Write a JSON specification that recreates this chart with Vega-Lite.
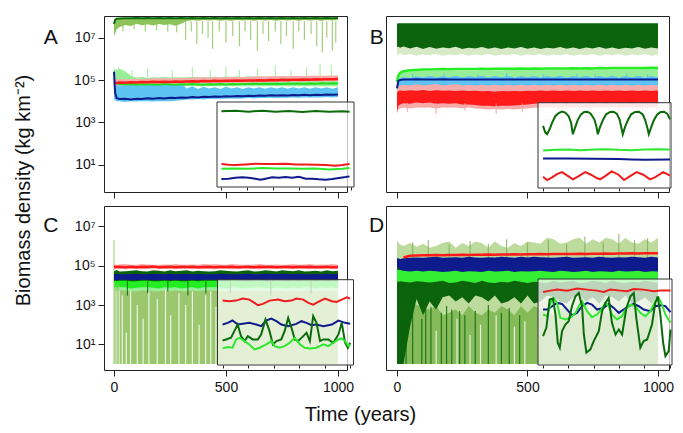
{
"$schema":"https://vega.github.io/schema/vega-lite/v6.json",
"background":"white",
"padding":{"left":12,"top":13,"right":4,"bottom":4},
"bounds":"flush",
"columns":2,
"spacing":{"row":14,"column":39},
"config":{"view":{"stroke":"#222","strokeWidth":1},"font":"Liberation Sans","mark":{"invalid":"filter"},
"axis":{"grid":false,"domain":false,"tickColor":"#222","tickSize":6,"labelFont":"Liberation Sans","labelFontSize":14,"labelColor":"#111","labelPadding":3,"labelFlush":false,"labelOverlap":false,"titleFont":"Liberation Sans","titleFontSize":20,"titleFontWeight":"normal","titleColor":"#111"}},
"datasets":{
"A":[
{"t":0,"oL":1.2e7,"d":4.5e7,"pL":4e4,"pH":3.5e5,"bL":1.3e4,"bH":1.5e5,"kL":5e4,"kH":1.2e5,"g":7e4,"r":8e4,"n":2.5e5},
{"t":5,"oL":1.6e7,"d":7e7,"pL":4.5e4,"pH":3.2e5,"bL":1.1e4,"bH":1.2e5,"kL":5.5e4,"kH":1.15e5,"g":7e4,"r":7.5e4,"n":2.5e4},
{"t":12,"oL":2.5e7,"d":8e7,"pL":5e4,"pH":3e5,"bL":1e4,"bH":1e5,"kL":5.5e4,"kH":1.1e5,"g":6.8e4,"r":7.2e4,"n":1.4e4},
{"t":25,"oL":3.2e7,"d":8.2e7,"pL":5e4,"pH":3.3e5,"bL":1e4,"bH":9e4,"kL":5.5e4,"kH":1.1e5,"g":6.5e4,"r":7.6e4,"n":1.25e4},
{"t":50,"oL":4e7,"d":8.4e7,"pL":5e4,"pH":2.6e5,"bL":9e3,"bH":1e5,"kL":5.5e4,"kH":1.1e5,"g":6.2e4,"r":7.4e4,"n":1.3e4},
{"t":75,"oL":3.6e7,"d":8.3e7,"pL":5e4,"pH":1.6e5,"bL":1e4,"bH":8.5e4,"kL":5.8e4,"kH":1.1e5,"g":6.4e4,"r":7.8e4,"n":1.2e4},
{"t":100,"oL":4.6e7,"d":8.5e7,"pL":5e4,"pH":1.3e5,"bL":9.5e3,"bH":1e5,"kL":6e4,"kH":1.15e5,"g":6e4,"r":7.6e4,"n":1.3e4},
{"t":125,"oL":3.9e7,"d":8.4e7,"pL":5e4,"pH":1.4e5,"bL":1e4,"bH":8e4,"kL":6e4,"kH":1.1e5,"g":6.3e4,"r":8e4,"n":1.25e4},
{"t":150,"oL":4.3e7,"d":8.5e7,"pL":5e4,"pH":1.25e5,"bL":1e4,"bH":9.5e4,"kL":6e4,"kH":1.15e5,"g":6.1e4,"r":7.8e4,"n":1.35e4},
{"t":175,"oL":3.8e7,"d":8.4e7,"pL":5e4,"pH":1.35e5,"bL":9.5e3,"bH":8.5e4,"kL":6.2e4,"kH":1.2e5,"g":6.2e4,"r":8.2e4,"n":1.3e4},
{"t":200,"oL":4.5e7,"d":8.5e7,"pL":5e4,"pH":1.3e5,"bL":1e4,"bH":1e5,"kL":6.2e4,"kH":1.2e5,"g":6e4,"r":8e4,"n":1.4e4},
{"t":225,"oL":4e7,"d":8.4e7,"pL":5e4,"pH":1.4e5,"bL":1e4,"bH":8.5e4,"kL":6.3e4,"kH":1.2e5,"g":6.4e4,"r":8.3e4,"n":1.35e4},
{"t":250,"oL":4.4e7,"d":8.5e7,"pL":5e4,"pH":1.3e5,"bL":1e4,"bH":9.5e4,"kL":6.4e4,"kH":1.2e5,"g":6.2e4,"r":8.1e4,"n":1.45e4},
{"t":275,"oL":3.7e7,"d":8.4e7,"pL":5e4,"pH":1.35e5,"bL":1.05e4,"bH":8e4,"kL":6.5e4,"kH":1.25e5,"g":6e4,"r":8.5e4,"n":1.4e4},
{"t":300,"oL":4.6e7,"d":8.5e7,"pL":5e4,"pH":1.3e5,"bL":1.1e4,"bH":7e4,"kL":6.5e4,"kH":1.25e5,"g":6.3e4,"r":8.3e4,"n":1.5e4},
{"t":325,"oL":6.2e7,"d":8.4e7,"pL":5e4,"pH":1.35e5,"bL":1.2e4,"bH":4e4,"kL":6.6e4,"kH":1.25e5,"g":6.1e4,"r":8.6e4,"n":1.45e4},
{"t":350,"oL":6.8e7,"d":8.5e7,"pL":5e4,"pH":1.4e5,"bL":1.2e4,"bH":5e4,"kL":6.8e4,"kH":1.3e5,"g":6.4e4,"r":8.8e4,"n":1.55e4},
{"t":375,"oL":6.4e7,"d":8.4e7,"pL":5e4,"pH":1.35e5,"bL":1.25e4,"bH":3.8e4,"kL":6.8e4,"kH":1.3e5,"g":6.2e4,"r":8.6e4,"n":1.5e4},
{"t":400,"oL":7e7,"d":8.5e7,"pL":5e4,"pH":1.4e5,"bL":1.2e4,"bH":4.8e4,"kL":7e4,"kH":1.3e5,"g":6e4,"r":9e4,"n":1.6e4},
{"t":425,"oL":6.5e7,"d":8.4e7,"pL":5e4,"pH":1.35e5,"bL":1.3e4,"bH":4e4,"kL":7e4,"kH":1.3e5,"g":6.3e4,"r":8.8e4,"n":1.55e4},
{"t":450,"oL":6.9e7,"d":8.5e7,"pL":5e4,"pH":1.45e5,"bL":1.25e4,"bH":4.6e4,"kL":7e4,"kH":1.35e5,"g":6.1e4,"r":9.2e4,"n":1.65e4},
{"t":475,"oL":6.3e7,"d":8.4e7,"pL":5e4,"pH":1.35e5,"bL":1.3e4,"bH":3.8e4,"kL":7.2e4,"kH":1.35e5,"g":6.4e4,"r":9e4,"n":1.6e4},
{"t":500,"oL":6.8e7,"d":8.5e7,"pL":5e4,"pH":1.45e5,"bL":1.3e4,"bH":4.8e4,"kL":7.2e4,"kH":1.35e5,"g":6.2e4,"r":9.3e4,"n":1.7e4},
{"t":525,"oL":6.4e7,"d":8.4e7,"pL":5e4,"pH":1.4e5,"bL":1.35e4,"bH":4e4,"kL":7.3e4,"kH":1.4e5,"g":6.5e4,"r":9.1e4,"n":1.65e4},
{"t":550,"oL":7e7,"d":8.5e7,"pL":5e4,"pH":1.5e5,"bL":1.3e4,"bH":4.5e4,"kL":7.4e4,"kH":1.4e5,"g":6.3e4,"r":9.5e4,"n":1.75e4},
{"t":575,"oL":6.5e7,"d":8.4e7,"pL":5e4,"pH":1.4e5,"bL":1.35e4,"bH":3.8e4,"kL":7.5e4,"kH":1.4e5,"g":6.5e4,"r":9.3e4,"n":1.7e4},
{"t":600,"oL":6.9e7,"d":8.5e7,"pL":5e4,"pH":1.5e5,"bL":1.4e4,"bH":4.6e4,"kL":7.5e4,"kH":1.4e5,"g":6.4e4,"r":9.6e4,"n":1.8e4},
{"t":625,"oL":6.4e7,"d":8.4e7,"pL":5e4,"pH":1.4e5,"bL":1.35e4,"bH":4e4,"kL":7.6e4,"kH":1.45e5,"g":6.6e4,"r":9.4e4,"n":1.75e4},
{"t":650,"oL":7e7,"d":8.5e7,"pL":5e4,"pH":1.5e5,"bL":1.4e4,"bH":4.5e4,"kL":7.6e4,"kH":1.45e5,"g":6.4e4,"r":9.8e4,"n":1.85e4},
{"t":675,"oL":6.5e7,"d":8.4e7,"pL":5e4,"pH":1.4e5,"bL":1.4e4,"bH":3.9e4,"kL":7.8e4,"kH":1.45e5,"g":6.6e4,"r":9.6e4,"n":1.8e4},
{"t":700,"oL":6.9e7,"d":8.5e7,"pL":5e4,"pH":1.5e5,"bL":1.45e4,"bH":4.6e4,"kL":7.8e4,"kH":1.5e5,"g":6.5e4,"r":1e5,"n":1.9e4},
{"t":725,"oL":6.4e7,"d":8.4e7,"pL":5e4,"pH":1.45e5,"bL":1.4e4,"bH":4e4,"kL":8e4,"kH":1.5e5,"g":6.7e4,"r":9.8e4,"n":1.85e4},
{"t":750,"oL":7e7,"d":8.5e7,"pL":5e4,"pH":1.55e5,"bL":1.45e4,"bH":4.5e4,"kL":8e4,"kH":1.5e5,"g":6.5e4,"r":1.02e5,"n":1.9e4},
{"t":775,"oL":6.5e7,"d":8.4e7,"pL":5e4,"pH":1.45e5,"bL":1.45e4,"bH":3.9e4,"kL":8.2e4,"kH":1.5e5,"g":6.8e4,"r":1e5,"n":1.85e4},
{"t":800,"oL":6.9e7,"d":8.5e7,"pL":5e4,"pH":1.55e5,"bL":1.5e4,"bH":4.6e4,"kL":8.2e4,"kH":1.55e5,"g":6.6e4,"r":1.04e5,"n":1.95e4},
{"t":825,"oL":6.4e7,"d":8.4e7,"pL":5e4,"pH":1.45e5,"bL":1.45e4,"bH":4e4,"kL":8.3e4,"kH":1.55e5,"g":6.8e4,"r":1.02e5,"n":1.9e4},
{"t":850,"oL":7e7,"d":8.5e7,"pL":5e4,"pH":1.55e5,"bL":1.5e4,"bH":4.5e4,"kL":8.4e4,"kH":1.55e5,"g":6.6e4,"r":1.06e5,"n":2e4},
{"t":875,"oL":6.5e7,"d":8.4e7,"pL":5e4,"pH":1.5e5,"bL":1.5e4,"bH":3.9e4,"kL":8.5e4,"kH":1.6e5,"g":6.9e4,"r":1.04e5,"n":1.9e4},
{"t":900,"oL":6.9e7,"d":8.5e7,"pL":5e4,"pH":1.6e5,"bL":1.5e4,"bH":4.6e4,"kL":8.6e4,"kH":1.6e5,"g":6.7e4,"r":1.08e5,"n":2e4},
{"t":925,"oL":6.4e7,"d":8.4e7,"pL":5e4,"pH":1.5e5,"bL":1.5e4,"bH":4e4,"kL":8.7e4,"kH":1.6e5,"g":7e4,"r":1.05e5,"n":1.95e4},
{"t":950,"oL":7e7,"d":8.5e7,"pL":5e4,"pH":1.6e5,"bL":1.55e4,"bH":4.5e4,"kL":8.8e4,"kH":1.6e5,"g":6.8e4,"r":1.1e5,"n":2.05e4},
{"t":975,"oL":6.5e7,"d":8.4e7,"pL":5e4,"pH":1.5e5,"bL":1.5e4,"bH":3.9e4,"kL":8.8e4,"kH":1.65e5,"g":7e4,"r":1.08e5,"n":2e4},
{"t":1000,"oL":6.9e7,"d":8.5e7,"pL":5e4,"pH":1.6e5,"bL":1.55e4,"bH":4.6e4,"kL":9e4,"kH":1.65e5,"g":6.8e4,"r":1.12e5,"n":2.05e4}
],
"B":[
{"t":0,"oL":1.5e6,"dL":3.6e6,"dH":4.6e7,"pL":7e4,"pH":1.3e5,"bL":3e4,"bH":9e4,"kL":2.5e3,"kH":4e4,"rL":3e3,"rH":2.5e4,"g":8e4,"n":4e4},
{"t":5,"oL":1.6e6,"dL":3.8e6,"dH":4.8e7,"pL":9e4,"pH":1.8e5,"bL":3.2e4,"bH":1.1e5,"kL":4e3,"kH":5e4,"rL":6e3,"rH":3e4,"g":1.6e5,"n":9e4},
{"t":12,"oL":1.8e6,"dL":3.4e6,"dH":4.9e7,"pL":1e5,"pH":2.2e5,"bL":3.3e4,"bH":1.2e5,"kL":4.5e3,"kH":5.5e4,"rL":7e3,"rH":3.2e4,"g":2.2e5,"n":1e5},
{"t":25,"oL":1.5e6,"dL":3.9e6,"dH":4.8e7,"pL":1.1e5,"pH":2.4e5,"bL":3.5e4,"bH":1.4e5,"kL":5e3,"kH":6e4,"rL":8e3,"rH":3e4,"g":2.6e5,"n":1.05e5},
{"t":50,"oL":1.7e6,"dL":3.1e6,"dH":4.9e7,"pL":1.15e5,"pH":2.6e5,"bL":3.4e4,"bH":1.25e5,"kL":4.5e3,"kH":5.5e4,"rL":7.5e3,"rH":3.3e4,"g":2.9e5,"n":1.05e5},
{"t":75,"oL":1.4e6,"dL":3.7e6,"dH":4.8e7,"pL":1.2e5,"pH":2.6e5,"bL":3.6e4,"bH":1.5e5,"kL":5e3,"kH":6.5e4,"rL":8.5e3,"rH":3.1e4,"g":3e5,"n":1.08e5},
{"t":100,"oL":1.6e6,"dL":2.9e6,"dH":4.9e7,"pL":1.2e5,"pH":2.7e5,"bL":3.5e4,"bH":1.3e5,"kL":4.8e3,"kH":5.5e4,"rL":8e3,"rH":3.4e4,"g":3.1e5,"n":1.05e5},
{"t":125,"oL":1.5e6,"dL":3.6e6,"dH":4.8e7,"pL":1.2e5,"pH":2.7e5,"bL":3.7e4,"bH":1.6e5,"kL":5e3,"kH":6e4,"rL":8.5e3,"rH":3e4,"g":3.15e5,"n":1.07e5},
{"t":150,"oL":1.7e6,"dL":3e6,"dH":4.9e7,"pL":1.2e5,"pH":2.75e5,"bL":3.5e4,"bH":1.3e5,"kL":4.5e3,"kH":6.5e4,"rL":7.5e3,"rH":3.3e4,"g":3.2e5,"n":1.05e5},
{"t":175,"oL":1.4e6,"dL":3.5e6,"dH":4.8e7,"pL":1.25e5,"pH":2.8e5,"bL":3.6e4,"bH":1.5e5,"kL":5e3,"kH":5.5e4,"rL":8e3,"rH":3.1e4,"g":3.3e5,"n":1.08e5},
{"t":200,"oL":1.6e6,"dL":3.2e6,"dH":4.9e7,"pL":1.2e5,"pH":2.8e5,"bL":3.5e4,"bH":1.35e5,"kL":4.8e3,"kH":6e4,"rL":7.5e3,"rH":3.2e4,"g":3.2e5,"n":1.05e5},
{"t":225,"oL":1.5e6,"dL":3.7e6,"dH":4.8e7,"pL":1.25e5,"pH":2.8e5,"bL":3.7e4,"bH":1.6e5,"kL":5e3,"kH":6.5e4,"rL":8e3,"rH":3e4,"g":3.35e5,"n":1.07e5},
{"t":250,"oL":1.7e6,"dL":2.9e6,"dH":4.9e7,"pL":1.25e5,"pH":2.85e5,"bL":3.5e4,"bH":1.3e5,"kL":4.5e3,"kH":5.5e4,"rL":7e3,"rH":3.2e4,"g":3.3e5,"n":1.05e5},
{"t":275,"oL":1.4e6,"dL":3.4e6,"dH":4.8e7,"pL":1.25e5,"pH":2.85e5,"bL":3.6e4,"bH":1.55e5,"kL":5e3,"kH":6e4,"rL":7e3,"rH":3e4,"g":3.35e5,"n":1.06e5},
{"t":300,"oL":1.6e6,"dL":3.1e6,"dH":4.9e7,"pL":1.25e5,"pH":2.85e5,"bL":3.5e4,"bH":1.35e5,"kL":4.5e3,"kH":5.5e4,"rL":6.5e3,"rH":3.1e4,"g":3.35e5,"n":1.05e5},
{"t":325,"oL":1.5e6,"dL":3.6e6,"dH":4.8e7,"pL":1.25e5,"pH":2.9e5,"bL":3.7e4,"bH":1.6e5,"kL":4.2e3,"kH":6e4,"rL":6e3,"rH":2.9e4,"g":3.4e5,"n":1.07e5},
{"t":350,"oL":1.7e6,"dL":3e6,"dH":4.9e7,"pL":1.25e5,"pH":2.9e5,"bL":3.5e4,"bH":1.3e5,"kL":4e3,"kH":5.5e4,"rL":6e3,"rH":3e4,"g":3.35e5,"n":1.05e5},
{"t":375,"oL":1.4e6,"dL":3.5e6,"dH":4.8e7,"pL":1.3e5,"pH":2.9e5,"bL":3.6e4,"bH":1.55e5,"kL":4.2e3,"kH":6e4,"rL":5.8e3,"rH":2.8e4,"g":3.45e5,"n":1.06e5},
{"t":400,"oL":1.6e6,"dL":2.9e6,"dH":4.9e7,"pL":1.25e5,"pH":2.9e5,"bL":3.5e4,"bH":1.35e5,"kL":4e3,"kH":5.5e4,"rL":6e3,"rH":3e4,"g":3.4e5,"n":1.05e5},
{"t":425,"oL":1.5e6,"dL":3.5e6,"dH":4.8e7,"pL":1.3e5,"pH":2.95e5,"bL":3.7e4,"bH":1.6e5,"kL":4.2e3,"kH":6e4,"rL":6e3,"rH":2.9e4,"g":3.45e5,"n":1.07e5},
{"t":450,"oL":1.7e6,"dL":3.1e6,"dH":4.9e7,"pL":1.3e5,"pH":2.95e5,"bL":3.5e4,"bH":1.3e5,"kL":4e3,"kH":5.5e4,"rL":6.2e3,"rH":3e4,"g":3.4e5,"n":1.05e5},
{"t":475,"oL":1.4e6,"dL":3.6e6,"dH":4.8e7,"pL":1.3e5,"pH":3e5,"bL":3.6e4,"bH":1.55e5,"kL":4.3e3,"kH":6e4,"rL":6.5e3,"rH":2.9e4,"g":3.5e5,"n":1.06e5},
{"t":500,"oL":1.6e6,"dL":3e6,"dH":4.9e7,"pL":1.3e5,"pH":3e5,"bL":3.5e4,"bH":1.35e5,"kL":4.5e3,"kH":5.5e4,"rL":7e3,"rH":3.1e4,"g":3.45e5,"n":1.05e5},
{"t":525,"oL":1.5e6,"dL":3.5e6,"dH":4.8e7,"pL":1.3e5,"pH":3e5,"bL":3.7e4,"bH":1.6e5,"kL":4.8e3,"kH":6e4,"rL":7.5e3,"rH":3e4,"g":3.5e5,"n":1.07e5},
{"t":550,"oL":1.7e6,"dL":2.9e6,"dH":4.9e7,"pL":1.3e5,"pH":3e5,"bL":3.5e4,"bH":1.3e5,"kL":5e3,"kH":5.5e4,"rL":8e3,"rH":3.2e4,"g":3.45e5,"n":1.05e5},
{"t":575,"oL":1.4e6,"dL":3.4e6,"dH":4.8e7,"pL":1.3e5,"pH":3.05e5,"bL":3.6e4,"bH":1.55e5,"kL":5e3,"kH":6e4,"rL":8.5e3,"rH":3e4,"g":3.55e5,"n":1.06e5},
{"t":600,"oL":1.6e6,"dL":3.1e6,"dH":4.9e7,"pL":1.3e5,"pH":3.05e5,"bL":3.5e4,"bH":1.35e5,"kL":5e3,"kH":5.5e4,"rL":8e3,"rH":3.2e4,"g":3.5e5,"n":1.05e5},
{"t":625,"oL":1.5e6,"dL":3.6e6,"dH":4.8e7,"pL":1.35e5,"pH":3.05e5,"bL":3.7e4,"bH":1.6e5,"kL":5e3,"kH":6e4,"rL":8.5e3,"rH":3e4,"g":3.55e5,"n":1.07e5},
{"t":650,"oL":1.7e6,"dL":3e6,"dH":4.9e7,"pL":1.3e5,"pH":3.1e5,"bL":3.5e4,"bH":1.3e5,"kL":5e3,"kH":5.5e4,"rL":8e3,"rH":3.2e4,"g":3.55e5,"n":1.05e5},
{"t":675,"oL":1.4e6,"dL":3.5e6,"dH":4.8e7,"pL":1.35e5,"pH":3.1e5,"bL":3.6e4,"bH":1.55e5,"kL":5e3,"kH":6e4,"rL":8.5e3,"rH":3e4,"g":3.6e5,"n":1.06e5},
{"t":700,"oL":1.6e6,"dL":2.9e6,"dH":4.9e7,"pL":1.3e5,"pH":3.1e5,"bL":3.5e4,"bH":1.35e5,"kL":5e3,"kH":5.5e4,"rL":8e3,"rH":3.2e4,"g":3.55e5,"n":1.05e5},
{"t":725,"oL":1.5e6,"dL":3.5e6,"dH":4.8e7,"pL":1.35e5,"pH":3.1e5,"bL":3.7e4,"bH":1.6e5,"kL":5e3,"kH":6e4,"rL":8.5e3,"rH":3e4,"g":3.6e5,"n":1.07e5},
{"t":750,"oL":1.7e6,"dL":3.1e6,"dH":4.9e7,"pL":1.35e5,"pH":3.15e5,"bL":3.5e4,"bH":1.3e5,"kL":5e3,"kH":5.5e4,"rL":8e3,"rH":3.2e4,"g":3.55e5,"n":1.05e5},
{"t":775,"oL":1.4e6,"dL":3.6e6,"dH":4.8e7,"pL":1.35e5,"pH":3.15e5,"bL":3.6e4,"bH":1.55e5,"kL":5e3,"kH":6e4,"rL":8.5e3,"rH":3e4,"g":3.65e5,"n":1.06e5},
{"t":800,"oL":1.6e6,"dL":3e6,"dH":4.9e7,"pL":1.35e5,"pH":3.15e5,"bL":3.5e4,"bH":1.35e5,"kL":5e3,"kH":5.5e4,"rL":8e3,"rH":3.2e4,"g":3.6e5,"n":1.05e5},
{"t":825,"oL":1.5e6,"dL":3.5e6,"dH":4.8e7,"pL":1.35e5,"pH":3.2e5,"bL":3.7e4,"bH":1.6e5,"kL":5e3,"kH":6e4,"rL":8.5e3,"rH":3e4,"g":3.65e5,"n":1.07e5},
{"t":850,"oL":1.7e6,"dL":2.9e6,"dH":4.9e7,"pL":1.35e5,"pH":3.2e5,"bL":3.5e4,"bH":1.3e5,"kL":5e3,"kH":5.5e4,"rL":8e3,"rH":3.2e4,"g":3.65e5,"n":1.05e5},
{"t":875,"oL":1.4e6,"dL":3.4e6,"dH":4.8e7,"pL":1.4e5,"pH":3.2e5,"bL":3.6e4,"bH":1.55e5,"kL":5e3,"kH":6e4,"rL":8.5e3,"rH":3e4,"g":3.7e5,"n":1.06e5},
{"t":900,"oL":1.6e6,"dL":3.1e6,"dH":4.9e7,"pL":1.35e5,"pH":3.2e5,"bL":3.5e4,"bH":1.35e5,"kL":5e3,"kH":5.5e4,"rL":8e3,"rH":3.2e4,"g":3.65e5,"n":1.05e5},
{"t":925,"oL":1.5e6,"dL":3.6e6,"dH":4.8e7,"pL":1.4e5,"pH":3.25e5,"bL":3.7e4,"bH":1.6e5,"kL":5e3,"kH":6e4,"rL":8.5e3,"rH":3e4,"g":3.7e5,"n":1.07e5},
{"t":950,"oL":1.7e6,"dL":3e6,"dH":4.9e7,"pL":1.4e5,"pH":3.25e5,"bL":3.5e4,"bH":1.3e5,"kL":5e3,"kH":5.5e4,"rL":8e3,"rH":3.2e4,"g":3.7e5,"n":1.05e5},
{"t":975,"oL":1.4e6,"dL":3.5e6,"dH":4.8e7,"pL":1.4e5,"pH":3.25e5,"bL":3.6e4,"bH":1.55e5,"kL":5e3,"kH":6e4,"rL":8.5e3,"rH":3e4,"g":3.75e5,"n":1.06e5},
{"t":1000,"oL":1.6e6,"dL":3.1e6,"dH":4.9e7,"pL":1.4e5,"pH":3.25e5,"bL":3.5e4,"bH":1.35e5,"kL":5e3,"kH":5.5e4,"rL":8e3,"rH":3.2e4,"g":3.7e5,"n":1.05e5}
],
"C":[
{"t":0,"oH":null,"pL":5e3,"pH":1.4e4,"gL":7e3,"gH":2e4,"dL":1.6e4,"dH":5e4,"nL":1.8e4,"nH":3.8e4,"kL":6.5e4,"kH":1.1e5,"r":8.5e4},
{"t":5,"oH":null,"pL":5e3,"pH":1.3e4,"gL":8e3,"gH":2.2e4,"dL":1.7e4,"dH":5.5e4,"nL":1.9e4,"nH":3.6e4,"kL":6.8e4,"kH":1.15e5,"r":8.7e4},
{"t":12,"oH":null,"pL":5e3,"pH":1.4e4,"gL":7.5e3,"gH":2e4,"dL":1.6e4,"dH":6e4,"nL":1.8e4,"nH":3.9e4,"kL":7e4,"kH":1.1e5,"r":8.6e4},
{"t":25,"oH":8e3,"pL":5.5e3,"pH":1.3e4,"gL":8e3,"gH":2.1e4,"dL":1.7e4,"dH":5e4,"nL":1.9e4,"nH":3.7e4,"kL":6.8e4,"kH":1.15e5,"r":8.8e4},
{"t":50,"oH":8.5e3,"pL":5.5e3,"pH":1.3e4,"gL":8e3,"gH":2.2e4,"dL":1.7e4,"dH":5.2e4,"nL":1.9e4,"nH":3.6e4,"kL":6.6e4,"kH":1.2e5,"r":8.4e4},
{"t":75,"oH":7e3,"pL":5e3,"pH":1.4e4,"gL":7e3,"gH":1.9e4,"dL":1.6e4,"dH":5.5e4,"nL":1.8e4,"nH":3.8e4,"kL":7e4,"kH":1.1e5,"r":8.9e4},
{"t":100,"oH":7.5e3,"pL":5e3,"pH":1.4e4,"gL":7.5e3,"gH":2e4,"dL":1.6e4,"dH":5.8e4,"nL":1.8e4,"nH":3.9e4,"kL":7e4,"kH":1.1e5,"r":8.3e4},
{"t":125,"oH":8.5e3,"pL":5.5e3,"pH":1.3e4,"gL":8e3,"gH":2.2e4,"dL":1.7e4,"dH":5.2e4,"nL":1.9e4,"nH":3.6e4,"kL":6.6e4,"kH":1.2e5,"r":8.7e4},
{"t":150,"oH":8e3,"pL":5.5e3,"pH":1.3e4,"gL":8e3,"gH":2.1e4,"dL":1.7e4,"dH":5e4,"nL":1.9e4,"nH":3.7e4,"kL":6.8e4,"kH":1.15e5,"r":8.5e4},
{"t":175,"oH":7.5e3,"pL":5e3,"pH":1.4e4,"gL":7.5e3,"gH":2e4,"dL":1.6e4,"dH":5.8e4,"nL":1.8e4,"nH":3.9e4,"kL":7e4,"kH":1.1e5,"r":9e4},
{"t":200,"oH":7e3,"pL":5e3,"pH":1.4e4,"gL":7e3,"gH":1.9e4,"dL":1.6e4,"dH":5.5e4,"nL":1.8e4,"nH":3.8e4,"kL":7e4,"kH":1.1e5,"r":8.4e4},
{"t":225,"oH":8e3,"pL":5.5e3,"pH":1.3e4,"gL":8e3,"gH":2.1e4,"dL":1.7e4,"dH":5e4,"nL":1.9e4,"nH":3.7e4,"kL":6.8e4,"kH":1.15e5,"r":8.6e4},
{"t":250,"oH":7.5e3,"pL":5e3,"pH":1.4e4,"gL":7.5e3,"gH":2e4,"dL":1.6e4,"dH":5.8e4,"nL":1.8e4,"nH":3.9e4,"kL":7e4,"kH":1.1e5,"r":8.8e4},
{"t":275,"oH":8.5e3,"pL":5.5e3,"pH":1.3e4,"gL":8e3,"gH":2.2e4,"dL":1.7e4,"dH":5.2e4,"nL":1.9e4,"nH":3.6e4,"kL":6.6e4,"kH":1.2e5,"r":8.3e4},
{"t":300,"oH":7e3,"pL":5e3,"pH":1.4e4,"gL":7e3,"gH":1.9e4,"dL":1.6e4,"dH":5.5e4,"nL":1.8e4,"nH":3.8e4,"kL":7e4,"kH":1.1e5,"r":8.7e4},
{"t":325,"oH":7.5e3,"pL":5e3,"pH":1.4e4,"gL":7.5e3,"gH":2e4,"dL":1.6e4,"dH":5.8e4,"nL":1.8e4,"nH":3.9e4,"kL":7e4,"kH":1.1e5,"r":8.5e4},
{"t":350,"oH":8e3,"pL":5.5e3,"pH":1.3e4,"gL":8e3,"gH":2.1e4,"dL":1.7e4,"dH":5e4,"nL":1.9e4,"nH":3.7e4,"kL":6.8e4,"kH":1.15e5,"r":8.9e4},
{"t":375,"oH":7e3,"pL":5e3,"pH":1.4e4,"gL":7e3,"gH":1.9e4,"dL":1.6e4,"dH":5.5e4,"nL":1.8e4,"nH":3.8e4,"kL":7e4,"kH":1.1e5,"r":8.4e4},
{"t":400,"oH":8.5e3,"pL":5.5e3,"pH":1.3e4,"gL":8e3,"gH":2.2e4,"dL":1.7e4,"dH":5.2e4,"nL":1.9e4,"nH":3.6e4,"kL":6.6e4,"kH":1.2e5,"r":8.6e4},
{"t":425,"oH":8e3,"pL":5.5e3,"pH":1.3e4,"gL":8e3,"gH":2.1e4,"dL":1.7e4,"dH":5e4,"nL":1.9e4,"nH":3.7e4,"kL":6.8e4,"kH":1.15e5,"r":8.8e4},
{"t":450,"oH":8.5e3,"pL":5.5e3,"pH":1.3e4,"gL":8e3,"gH":2.2e4,"dL":1.7e4,"dH":5.2e4,"nL":1.9e4,"nH":3.6e4,"kL":6.6e4,"kH":1.2e5,"r":8.3e4},
{"t":475,"oH":7.5e3,"pL":5e3,"pH":1.4e4,"gL":7.5e3,"gH":2e4,"dL":1.6e4,"dH":5.8e4,"nL":1.8e4,"nH":3.9e4,"kL":7e4,"kH":1.1e5,"r":8.7e4},
{"t":500,"oH":7e3,"pL":5e3,"pH":1.4e4,"gL":7e3,"gH":1.9e4,"dL":1.6e4,"dH":5.5e4,"nL":1.8e4,"nH":3.8e4,"kL":7e4,"kH":1.1e5,"r":8.5e4},
{"t":525,"oH":8.5e3,"pL":5.5e3,"pH":1.3e4,"gL":8e3,"gH":2.2e4,"dL":1.7e4,"dH":5.2e4,"nL":1.9e4,"nH":3.6e4,"kL":6.6e4,"kH":1.2e5,"r":8.9e4},
{"t":550,"oH":8e3,"pL":5.5e3,"pH":1.3e4,"gL":8e3,"gH":2.1e4,"dL":1.7e4,"dH":5e4,"nL":1.9e4,"nH":3.7e4,"kL":6.8e4,"kH":1.15e5,"r":8.4e4},
{"t":575,"oH":7e3,"pL":5e3,"pH":1.4e4,"gL":7e3,"gH":1.9e4,"dL":1.6e4,"dH":5.5e4,"nL":1.8e4,"nH":3.8e4,"kL":7e4,"kH":1.1e5,"r":8.6e4},
{"t":600,"oH":7.5e3,"pL":5e3,"pH":1.4e4,"gL":7.5e3,"gH":2e4,"dL":1.6e4,"dH":5.8e4,"nL":1.8e4,"nH":3.9e4,"kL":7e4,"kH":1.1e5,"r":8.8e4},
{"t":625,"oH":8e3,"pL":5.5e3,"pH":1.3e4,"gL":8e3,"gH":2.1e4,"dL":1.7e4,"dH":5e4,"nL":1.9e4,"nH":3.7e4,"kL":6.8e4,"kH":1.15e5,"r":8.3e4},
{"t":650,"oH":8.5e3,"pL":5.5e3,"pH":1.3e4,"gL":8e3,"gH":2.2e4,"dL":1.7e4,"dH":5.2e4,"nL":1.9e4,"nH":3.6e4,"kL":6.6e4,"kH":1.2e5,"r":8.7e4},
{"t":675,"oH":7.5e3,"pL":5e3,"pH":1.4e4,"gL":7.5e3,"gH":2e4,"dL":1.6e4,"dH":5.8e4,"nL":1.8e4,"nH":3.9e4,"kL":7e4,"kH":1.1e5,"r":8.5e4},
{"t":700,"oH":7e3,"pL":5e3,"pH":1.4e4,"gL":7e3,"gH":1.9e4,"dL":1.6e4,"dH":5.5e4,"nL":1.8e4,"nH":3.8e4,"kL":7e4,"kH":1.1e5,"r":8.9e4},
{"t":725,"oH":8e3,"pL":5.5e3,"pH":1.3e4,"gL":8e3,"gH":2.1e4,"dL":1.7e4,"dH":5e4,"nL":1.9e4,"nH":3.7e4,"kL":6.8e4,"kH":1.15e5,"r":8.4e4},
{"t":750,"oH":7.5e3,"pL":5e3,"pH":1.4e4,"gL":7.5e3,"gH":2e4,"dL":1.6e4,"dH":5.8e4,"nL":1.8e4,"nH":3.9e4,"kL":7e4,"kH":1.1e5,"r":8.6e4},
{"t":775,"oH":7e3,"pL":5e3,"pH":1.4e4,"gL":7e3,"gH":1.9e4,"dL":1.6e4,"dH":5.5e4,"nL":1.8e4,"nH":3.8e4,"kL":7e4,"kH":1.1e5,"r":8.8e4},
{"t":800,"oH":8.5e3,"pL":5.5e3,"pH":1.3e4,"gL":8e3,"gH":2.2e4,"dL":1.7e4,"dH":5.2e4,"nL":1.9e4,"nH":3.6e4,"kL":6.6e4,"kH":1.2e5,"r":8.3e4},
{"t":825,"oH":7.5e3,"pL":5e3,"pH":1.4e4,"gL":7.5e3,"gH":2e4,"dL":1.6e4,"dH":5.8e4,"nL":1.8e4,"nH":3.9e4,"kL":7e4,"kH":1.1e5,"r":8.7e4},
{"t":850,"oH":8e3,"pL":5.5e3,"pH":1.3e4,"gL":8e3,"gH":2.1e4,"dL":1.7e4,"dH":5e4,"nL":1.9e4,"nH":3.7e4,"kL":6.8e4,"kH":1.15e5,"r":8.5e4},
{"t":875,"oH":8.5e3,"pL":5.5e3,"pH":1.3e4,"gL":8e3,"gH":2.2e4,"dL":1.7e4,"dH":5.2e4,"nL":1.9e4,"nH":3.6e4,"kL":6.6e4,"kH":1.2e5,"r":8.9e4},
{"t":900,"oH":7e3,"pL":5e3,"pH":1.4e4,"gL":7e3,"gH":1.9e4,"dL":1.6e4,"dH":5.5e4,"nL":1.8e4,"nH":3.8e4,"kL":7e4,"kH":1.1e5,"r":8.4e4},
{"t":925,"oH":8e3,"pL":5.5e3,"pH":1.3e4,"gL":8e3,"gH":2.1e4,"dL":1.7e4,"dH":5e4,"nL":1.9e4,"nH":3.7e4,"kL":6.8e4,"kH":1.15e5,"r":8.6e4},
{"t":950,"oH":7.5e3,"pL":5e3,"pH":1.4e4,"gL":7.5e3,"gH":2e4,"dL":1.6e4,"dH":5.8e4,"nL":1.8e4,"nH":3.9e4,"kL":7e4,"kH":1.1e5,"r":8.8e4},
{"t":975,"oH":8.5e3,"pL":5.5e3,"pH":1.3e4,"gL":8e3,"gH":2.2e4,"dL":1.7e4,"dH":5.2e4,"nL":1.9e4,"nH":3.6e4,"kL":6.6e4,"kH":1.2e5,"r":8.3e4},
{"t":1000,"oH":7e3,"pL":5e3,"pH":1.4e4,"gL":7e3,"gH":1.9e4,"dL":1.6e4,"dH":5.5e4,"nL":1.8e4,"nH":3.8e4,"kL":7e4,"kH":1.1e5,"r":8.6e4}
],
"D":[
{"t":0,"oH":2e6,"mH":1e4,"dL":1,"dH":2e5,"gL":1.5e4,"gH":6e4,"nL":9e4,"nH":2.5e5,"r":null},
{"t":5,"oH":1.5e6,"mH":1e4,"dL":1,"dH":1.8e5,"gL":1.5e4,"gH":6e4,"nL":8e4,"nH":2.3e5,"r":null},
{"t":12,"oH":1.2e6,"mH":5e3,"dL":1,"dH":1.6e5,"gL":1.6e4,"gH":6e4,"nL":6e4,"nH":2.2e5,"r":null},
{"t":25,"oH":1e6,"mH":2e3,"dL":1,"dH":1.4e5,"gL":1.5e4,"gH":6e4,"nL":5.5e4,"nH":2.4e5,"r":2.6e5},
{"t":50,"oH":1.4e6,"mH":1.5e3,"dL":80,"dH":1.5e5,"gL":1.4e4,"gH":5.5e4,"nL":5e4,"nH":2.5e5,"r":3.2e5},
{"t":75,"oH":9e5,"mH":1e3,"dL":2e3,"dH":1.3e5,"gL":1.6e4,"gH":6e4,"nL":5.5e4,"nH":2.6e5,"r":3.3e5},
{"t":100,"oH":1.3e6,"mH":800,"dL":300,"dH":1.5e5,"gL":1.5e4,"gH":5.5e4,"nL":5e4,"nH":2.5e5,"r":3.4e5},
{"t":125,"oH":8e5,"mH":600,"dL":1.5e3,"dH":1.3e5,"gL":1.4e4,"gH":6e4,"nL":5.5e4,"nH":2.7e5,"r":3.35e5},
{"t":150,"oH":1e6,"mH":900,"dL":600,"dH":1.4e5,"gL":1.5e4,"gH":6.5e4,"nL":5.2e4,"nH":2.8e5,"r":3.45e5},
{"t":175,"oH":1.4e6,"mH":300,"dL":2.5e3,"dH":1.5e5,"gL":1.7e4,"gH":5.5e4,"nL":4.8e4,"nH":2.5e5,"r":3.4e5},
{"t":200,"oH":1.7e6,"mH":400,"dL":3e3,"dH":1.3e5,"gL":1.3e4,"gH":5.5e4,"nL":5e4,"nH":2.6e5,"r":3.5e5},
{"t":225,"oH":8e5,"mH":600,"dL":1.5e3,"dH":1.3e5,"gL":1.4e4,"gH":6e4,"nL":5.5e4,"nH":2.7e5,"r":3.45e5},
{"t":250,"oH":1.4e6,"mH":300,"dL":2.5e3,"dH":1.5e5,"gL":1.7e4,"gH":5.5e4,"nL":4.8e4,"nH":2.5e5,"r":3.55e5},
{"t":275,"oH":1e6,"mH":900,"dL":1.2e3,"dH":1.4e5,"gL":1.5e4,"gH":6.5e4,"nL":5.2e4,"nH":2.8e5,"r":3.5e5},
{"t":300,"oH":1.7e6,"mH":400,"dL":3e3,"dH":1.3e5,"gL":1.3e4,"gH":5.5e4,"nL":5e4,"nH":2.6e5,"r":3.6e5},
{"t":325,"oH":1.4e6,"mH":300,"dL":2.5e3,"dH":1.5e5,"gL":1.7e4,"gH":5.5e4,"nL":4.8e4,"nH":2.5e5,"r":3.55e5},
{"t":350,"oH":8e5,"mH":600,"dL":1.5e3,"dH":1.3e5,"gL":1.4e4,"gH":6e4,"nL":5.5e4,"nH":2.7e5,"r":3.65e5},
{"t":375,"oH":1.7e6,"mH":400,"dL":3e3,"dH":1.3e5,"gL":1.3e4,"gH":5.5e4,"nL":5e4,"nH":2.6e5,"r":3.6e5},
{"t":400,"oH":1e6,"mH":900,"dL":1.2e3,"dH":1.4e5,"gL":1.5e4,"gH":6.5e4,"nL":5.2e4,"nH":2.8e5,"r":3.7e5},
{"t":425,"oH":8e5,"mH":600,"dL":1.5e3,"dH":1.3e5,"gL":1.4e4,"gH":6e4,"nL":5.5e4,"nH":2.7e5,"r":3.65e5},
{"t":450,"oH":1.4e6,"mH":300,"dL":2.5e3,"dH":1.5e5,"gL":1.7e4,"gH":5.5e4,"nL":4.8e4,"nH":2.5e5,"r":3.75e5},
{"t":475,"oH":1e6,"mH":900,"dL":1.2e3,"dH":1.4e5,"gL":1.5e4,"gH":6.5e4,"nL":5.2e4,"nH":2.8e5,"r":3.7e5},
{"t":500,"oH":1.7e6,"mH":400,"dL":3e3,"dH":1.3e5,"gL":1.3e4,"gH":5.5e4,"nL":5e4,"nH":2.6e5,"r":3.8e5},
{"t":525,"oH":1.5e6,"mH":900,"dL":1.2e3,"dH":1.4e5,"gL":1.5e4,"gH":6.5e4,"nL":5.2e4,"nH":2.8e5,"r":3.75e5},
{"t":550,"oH":1.3e6,"mH":600,"dL":1.5e3,"dH":1.3e5,"gL":1.4e4,"gH":6e4,"nL":5.5e4,"nH":2.7e5,"r":3.85e5},
{"t":575,"oH":2.6e6,"mH":400,"dL":3e3,"dH":1.3e5,"gL":1.3e4,"gH":5.5e4,"nL":5e4,"nH":2.6e5,"r":3.8e5},
{"t":600,"oH":2.2e6,"mH":300,"dL":2.5e3,"dH":1.5e5,"gL":1.7e4,"gH":5.5e4,"nL":4.8e4,"nH":2.5e5,"r":3.9e5},
{"t":625,"oH":1.3e6,"mH":600,"dL":1.5e3,"dH":1.3e5,"gL":1.4e4,"gH":6e4,"nL":5.5e4,"nH":2.7e5,"r":3.85e5},
{"t":650,"oH":1.5e6,"mH":900,"dL":1.2e3,"dH":1.4e5,"gL":1.5e4,"gH":6.5e4,"nL":5.2e4,"nH":2.8e5,"r":3.95e5},
{"t":675,"oH":2.2e6,"mH":300,"dL":2.5e3,"dH":1.5e5,"gL":1.7e4,"gH":5.5e4,"nL":4.8e4,"nH":2.5e5,"r":3.9e5},
{"t":700,"oH":2.6e6,"mH":400,"dL":3e3,"dH":1.3e5,"gL":1.3e4,"gH":5.5e4,"nL":5e4,"nH":2.6e5,"r":4e5},
{"t":725,"oH":1.3e6,"mH":600,"dL":1.5e3,"dH":1.3e5,"gL":1.4e4,"gH":6e4,"nL":5.5e4,"nH":2.7e5,"r":3.95e5},
{"t":750,"oH":2.2e6,"mH":300,"dL":2.5e3,"dH":1.5e5,"gL":1.7e4,"gH":5.5e4,"nL":4.8e4,"nH":2.5e5,"r":4.05e5},
{"t":775,"oH":1.5e6,"mH":900,"dL":1.2e3,"dH":1.4e5,"gL":1.5e4,"gH":6.5e4,"nL":5.2e4,"nH":2.8e5,"r":4e5},
{"t":800,"oH":2.6e6,"mH":400,"dL":3e3,"dH":1.3e5,"gL":1.3e4,"gH":5.5e4,"nL":5e4,"nH":2.6e5,"r":4.1e5},
{"t":825,"oH":2.2e6,"mH":300,"dL":2.5e3,"dH":1.5e5,"gL":1.7e4,"gH":5.5e4,"nL":4.8e4,"nH":2.5e5,"r":4.05e5},
{"t":850,"oH":1.3e6,"mH":600,"dL":1.5e3,"dH":1.3e5,"gL":1.4e4,"gH":6e4,"nL":5.5e4,"nH":2.7e5,"r":4.15e5},
{"t":875,"oH":2.6e6,"mH":400,"dL":3e3,"dH":1.3e5,"gL":1.3e4,"gH":5.5e4,"nL":5e4,"nH":2.6e5,"r":4.1e5},
{"t":900,"oH":1.5e6,"mH":900,"dL":1.2e3,"dH":1.4e5,"gL":1.5e4,"gH":6.5e4,"nL":5.2e4,"nH":2.8e5,"r":4.2e5},
{"t":925,"oH":1.3e6,"mH":600,"dL":1.5e3,"dH":1.3e5,"gL":1.4e4,"gH":6e4,"nL":5.5e4,"nH":2.7e5,"r":4.15e5},
{"t":950,"oH":2.2e6,"mH":300,"dL":2.5e3,"dH":1.5e5,"gL":1.7e4,"gH":5.5e4,"nL":4.8e4,"nH":2.5e5,"r":4.25e5},
{"t":975,"oH":1.5e6,"mH":900,"dL":1.2e3,"dH":1.4e5,"gL":1.5e4,"gH":6.5e4,"nL":5.2e4,"nH":2.8e5,"r":4.2e5},
{"t":1000,"oH":2.6e6,"mH":400,"dL":3e3,"dH":1.3e5,"gL":1.3e4,"gH":5.5e4,"nL":5e4,"nH":2.6e5,"r":4.3e5}
],
"S":[
{"p":"A","c":"ao","t":40,"lo":2e7,"hi":6e7},{"p":"A","c":"ao","t":90,"lo":2.5e7,"hi":6e7},{"p":"A","c":"ao","t":140,"lo":2e7,"hi":6e7},{"p":"A","c":"ao","t":190,"lo":2.2e7,"hi":6e7},{"p":"A","c":"ao","t":240,"lo":2e7,"hi":6e7},{"p":"A","c":"ao","t":280,"lo":1.8e7,"hi":6e7},{"p":"A","c":"ao","t":320,"lo":8e6,"hi":6e7},{"p":"A","c":"ao","t":345,"lo":2e7,"hi":6e7},{"p":"A","c":"ao","t":370,"lo":5e6,"hi":6e7},{"p":"A","c":"ao","t":395,"lo":1.5e7,"hi":6e7},{"p":"A","c":"ao","t":420,"lo":1e7,"hi":6e7},{"p":"A","c":"ao","t":440,"lo":3e6,"hi":6e7},{"p":"A","c":"ao","t":470,"lo":2e7,"hi":6e7},{"p":"A","c":"ao","t":500,"lo":6e6,"hi":6e7},{"p":"A","c":"ao","t":530,"lo":1.2e7,"hi":6e7},{"p":"A","c":"ao","t":560,"lo":4e6,"hi":6e7},{"p":"A","c":"ao","t":585,"lo":2e7,"hi":6e7},{"p":"A","c":"ao","t":610,"lo":8e6,"hi":6e7},{"p":"A","c":"ao","t":640,"lo":2.5e6,"hi":6e7},{"p":"A","c":"ao","t":665,"lo":1.5e7,"hi":6e7},{"p":"A","c":"ao","t":690,"lo":7e6,"hi":6e7},{"p":"A","c":"ao","t":720,"lo":2e7,"hi":6e7},{"p":"A","c":"ao","t":745,"lo":5e6,"hi":6e7},{"p":"A","c":"ao","t":770,"lo":1.2e7,"hi":6e7},{"p":"A","c":"ao","t":800,"lo":3e6,"hi":6e7},{"p":"A","c":"ao","t":825,"lo":2e7,"hi":6e7},{"p":"A","c":"ao","t":850,"lo":8e6,"hi":6e7},{"p":"A","c":"ao","t":880,"lo":1.5e7,"hi":6e7},{"p":"A","c":"ao","t":905,"lo":4e6,"hi":6e7},{"p":"A","c":"ao","t":930,"lo":2e6,"hi":6e7},{"p":"A","c":"ao","t":950,"lo":1e7,"hi":6e7},{"p":"A","c":"ao","t":975,"lo":2.5e6,"hi":6e7},{"p":"A","c":"ao","t":990,"lo":6e6,"hi":6e7},
{"p":"A","c":"ap","t":20,"lo":1e5,"hi":4e5},{"p":"A","c":"ap","t":80,"lo":1e5,"hi":3e5},{"p":"A","c":"ap","t":150,"lo":1e5,"hi":3.5e5},{"p":"A","c":"ap","t":260,"lo":1e5,"hi":3e5},{"p":"A","c":"ap","t":350,"lo":1e5,"hi":4e5},{"p":"A","c":"ap","t":430,"lo":1e5,"hi":3e5},{"p":"A","c":"ap","t":500,"lo":1e5,"hi":4.5e5},{"p":"A","c":"ap","t":560,"lo":1e5,"hi":3e5},{"p":"A","c":"ap","t":640,"lo":1e5,"hi":3.5e5},{"p":"A","c":"ap","t":720,"lo":1e5,"hi":5e5},{"p":"A","c":"ap","t":790,"lo":1e5,"hi":3e5},{"p":"A","c":"ap","t":860,"lo":1e5,"hi":4e5},{"p":"A","c":"ap","t":920,"lo":1e5,"hi":6e5},{"p":"A","c":"ap","t":970,"lo":1e5,"hi":5e5},
{"p":"B","c":"bb","t":60,"lo":1.2e5,"hi":1.9e5},{"p":"B","c":"bb","t":180,"lo":1.2e5,"hi":2e5},{"p":"B","c":"bb","t":310,"lo":1.2e5,"hi":1.8e5},{"p":"B","c":"bb","t":420,"lo":1.2e5,"hi":2.2e5},{"p":"B","c":"bb","t":560,"lo":1.2e5,"hi":1.9e5},{"p":"B","c":"bb","t":690,"lo":1.2e5,"hi":2e5},{"p":"B","c":"bb","t":760,"lo":1.2e5,"hi":1.8e5},{"p":"B","c":"bb","t":880,"lo":1.2e5,"hi":2.1e5},{"p":"B","c":"bb","t":960,"lo":1.2e5,"hi":1.9e5},
{"p":"B","c":"bk","t":40,"lo":3e3,"hi":8e3},{"p":"B","c":"bk","t":150,"lo":2.5e3,"hi":8e3},{"p":"B","c":"bk","t":260,"lo":3.5e3,"hi":8e3},{"p":"B","c":"bk","t":380,"lo":2.5e3,"hi":8e3},{"p":"B","c":"bk","t":480,"lo":3e3,"hi":8e3},{"p":"B","c":"bk","t":620,"lo":3e3,"hi":8e3},{"p":"B","c":"bk","t":740,"lo":2.8e3,"hi":8e3},{"p":"B","c":"bk","t":850,"lo":3e3,"hi":8e3},{"p":"B","c":"bk","t":940,"lo":2.6e3,"hi":8e3},
{"p":"C","c":"co","t":0,"lo":1,"hi":2e6},{"p":"C","c":"co","t":4,"lo":1,"hi":5e3},{"p":"C","c":"co","t":9,"lo":1,"hi":1e4},{"p":"C","c":"co","t":15,"lo":1,"hi":8e3},{"p":"C","c":"co","t":20,"lo":1,"hi":1e4},
{"p":"C","c":"cw","t":37,"lo":1,"hi":3e3},{"p":"C","c":"cw","t":55,"lo":1,"hi":40},{"p":"C","c":"cw","t":74,"lo":1,"hi":5e3},{"p":"C","c":"cw","t":104,"lo":1,"hi":1e3},{"p":"C","c":"cw","t":130,"lo":1,"hi":200},{"p":"C","c":"cw","t":156,"lo":1,"hi":5e3},{"p":"C","c":"cw","t":193,"lo":1,"hi":2e3},{"p":"C","c":"cw","t":230,"lo":1,"hi":6e3},{"p":"C","c":"cw","t":253,"lo":1,"hi":300},{"p":"C","c":"cw","t":290,"lo":1,"hi":4e3},{"p":"C","c":"cw","t":320,"lo":1,"hi":1e3},{"p":"C","c":"cw","t":350,"lo":1,"hi":5e3},{"p":"C","c":"cw","t":380,"lo":1,"hi":100},{"p":"C","c":"cw","t":409,"lo":1,"hi":3e3},{"p":"C","c":"cw","t":432,"lo":1,"hi":5e3},{"p":"C","c":"cw","t":455,"lo":1,"hi":800},
{"p":"C","c":"cd","t":60,"lo":3e3,"hi":1.6e4},{"p":"C","c":"cd","t":150,"lo":4e3,"hi":1.6e4},{"p":"C","c":"cd","t":240,"lo":5e3,"hi":1.6e4},{"p":"C","c":"cd","t":330,"lo":3e3,"hi":1.6e4},{"p":"C","c":"cd","t":410,"lo":4e3,"hi":1.6e4},{"p":"C","c":"cd","t":520,"lo":4e3,"hi":1.6e4},{"p":"C","c":"cd","t":700,"lo":3e3,"hi":1.6e4},{"p":"C","c":"cd","t":880,"lo":4e3,"hi":1.6e4},
{"p":"D","c":"dd","t":35,"lo":1,"hi":300},{"p":"D","c":"dd","t":60,"lo":1,"hi":500},{"p":"D","c":"dd","t":95,"lo":1,"hi":200},{"p":"D","c":"dd","t":130,"lo":1,"hi":800},{"p":"D","c":"dd","t":170,"lo":1,"hi":400},{"p":"D","c":"dd","t":210,"lo":1,"hi":600},{"p":"D","c":"dd","t":260,"lo":1,"hi":300},{"p":"D","c":"dd","t":300,"lo":1,"hi":500},{"p":"D","c":"dd","t":350,"lo":1,"hi":1e3},{"p":"D","c":"dd","t":400,"lo":1,"hi":400},{"p":"D","c":"dd","t":430,"lo":1,"hi":700},{"p":"D","c":"dd","t":470,"lo":1,"hi":300},{"p":"D","c":"dd","t":110,"lo":1,"hi":600},{"p":"D","c":"dd","t":190,"lo":1,"hi":900},{"p":"D","c":"dd","t":240,"lo":1,"hi":500},
{"p":"D","c":"dw","t":150,"lo":1,"hi":50},{"p":"D","c":"dw","t":230,"lo":1,"hi":200},{"p":"D","c":"dw","t":280,"lo":1,"hi":30},{"p":"D","c":"dw","t":320,"lo":1,"hi":100},{"p":"D","c":"dw","t":380,"lo":1,"hi":300},{"p":"D","c":"dw","t":450,"lo":1,"hi":80},{"p":"D","c":"dw","t":490,"lo":1,"hi":150},
{"p":"D","c":"dv","t":60,"lo":2e5,"hi":1.5e6},{"p":"D","c":"dv","t":120,"lo":2e5,"hi":2e6},{"p":"D","c":"dv","t":200,"lo":2e5,"hi":1.2e6},{"p":"D","c":"dv","t":280,"lo":2e5,"hi":1.8e6},{"p":"D","c":"dv","t":350,"lo":2e5,"hi":1.3e6},{"p":"D","c":"dv","t":420,"lo":2e5,"hi":2.2e6},{"p":"D","c":"dv","t":500,"lo":2e5,"hi":1.5e6},{"p":"D","c":"dv","t":580,"lo":2e5,"hi":2e6},{"p":"D","c":"dv","t":650,"lo":2e5,"hi":1.3e6},{"p":"D","c":"dv","t":720,"lo":2e5,"hi":3e6},{"p":"D","c":"dv","t":790,"lo":2e5,"hi":1.6e6},{"p":"D","c":"dv","t":850,"lo":2e5,"hi":4e6},{"p":"D","c":"dv","t":910,"lo":2e5,"hi":2e6},{"p":"D","c":"dv","t":960,"lo":2e5,"hi":2.5e6}
],
"I":[
{"i":"A","s":"d","u":0,"v":228},{"i":"A","s":"d","u":5.4,"v":230},{"i":"A","s":"d","u":10.6,"v":227},{"i":"A","s":"d","u":15.8,"v":230},{"i":"A","s":"d","u":20.9,"v":227},{"i":"A","s":"d","u":26.1,"v":229},{"i":"A","s":"d","u":31.3,"v":226},{"i":"A","s":"d","u":36.4,"v":229},{"i":"A","s":"d","u":41.6,"v":227},{"i":"A","s":"d","u":46.8,"v":228},{"i":"A","s":"d","u":49.6,"v":227},
{"i":"A","s":"r","u":0,"v":69},{"i":"A","s":"r","u":2.8,"v":67},{"i":"A","s":"r","u":5.4,"v":66},{"i":"A","s":"r","u":9.3,"v":68},{"i":"A","s":"r","u":13.2,"v":70},{"i":"A","s":"r","u":17.1,"v":69},{"i":"A","s":"r","u":20.9,"v":69},{"i":"A","s":"r","u":24.8,"v":70},{"i":"A","s":"r","u":28.7,"v":68},{"i":"A","s":"r","u":32.6,"v":68},{"i":"A","s":"r","u":36.4,"v":67},{"i":"A","s":"r","u":40.3,"v":66},{"i":"A","s":"r","u":44.2,"v":64},{"i":"A","s":"r","u":46.8,"v":66},{"i":"A","s":"r","u":49.6,"v":69},
{"i":"A","s":"g","u":0,"v":55},{"i":"A","s":"g","u":5.4,"v":56},{"i":"A","s":"g","u":10.6,"v":55},{"i":"A","s":"g","u":15.8,"v":57},{"i":"A","s":"g","u":20.9,"v":56},{"i":"A","s":"g","u":26.1,"v":56},{"i":"A","s":"g","u":31.3,"v":55},{"i":"A","s":"g","u":36.4,"v":56},{"i":"A","s":"g","u":41.6,"v":53},{"i":"A","s":"g","u":46.8,"v":55},{"i":"A","s":"g","u":49.6,"v":57},
{"i":"A","s":"n","u":0,"v":24},{"i":"A","s":"n","u":2.8,"v":25},{"i":"A","s":"n","u":5.4,"v":28},{"i":"A","s":"n","u":8,"v":29},{"i":"A","s":"n","u":10.6,"v":28},{"i":"A","s":"n","u":13.2,"v":25},{"i":"A","s":"n","u":15.1,"v":22},{"i":"A","s":"n","u":17.1,"v":25},{"i":"A","s":"n","u":19.6,"v":29},{"i":"A","s":"n","u":22.2,"v":28},{"i":"A","s":"n","u":24.8,"v":30},{"i":"A","s":"n","u":27.4,"v":28},{"i":"A","s":"n","u":30,"v":31},{"i":"A","s":"n","u":32.6,"v":25},{"i":"A","s":"n","u":35.1,"v":25},{"i":"A","s":"n","u":37.7,"v":23},{"i":"A","s":"n","u":40.3,"v":22},{"i":"A","s":"n","u":42.9,"v":24},{"i":"A","s":"n","u":45.5,"v":27},{"i":"A","s":"n","u":48.1,"v":30},{"i":"A","s":"n","u":49.6,"v":32},
{"i":"B","s":"d","u":0,"v":187},{"i":"B","s":"d","u":0.9,"v":167},{"i":"B","s":"d","u":1.6,"v":162},{"i":"B","s":"d","u":2.6,"v":177},{"i":"B","s":"d","u":3.6,"v":197},{"i":"B","s":"d","u":4.9,"v":217},{"i":"B","s":"d","u":6.2,"v":226},{"i":"B","s":"d","u":7.5,"v":230},{"i":"B","s":"d","u":8.8,"v":227},{"i":"B","s":"d","u":10.1,"v":217},{"i":"B","s":"d","u":11.1,"v":197},{"i":"B","s":"d","u":11.8,"v":162},{"i":"B","s":"d","u":12.8,"v":184},{"i":"B","s":"d","u":13.7,"v":204},{"i":"B","s":"d","u":15,"v":222},{"i":"B","s":"d","u":16.3,"v":229},{"i":"B","s":"d","u":17.6,"v":230},{"i":"B","s":"d","u":18.9,"v":224},{"i":"B","s":"d","u":20.3,"v":207},{"i":"B","s":"d","u":21.1,"v":187},{"i":"B","s":"d","u":21.7,"v":162},{"i":"B","s":"d","u":22.6,"v":184},{"i":"B","s":"d","u":23.7,"v":204},{"i":"B","s":"d","u":25,"v":222},{"i":"B","s":"d","u":26.6,"v":229},{"i":"B","s":"d","u":27.9,"v":230},{"i":"B","s":"d","u":29.2,"v":224},{"i":"B","s":"d","u":30.3,"v":207},{"i":"B","s":"d","u":30.9,"v":187},{"i":"B","s":"d","u":31.6,"v":162},{"i":"B","s":"d","u":32.5,"v":184},{"i":"B","s":"d","u":33.6,"v":204},{"i":"B","s":"d","u":34.9,"v":222},{"i":"B","s":"d","u":36.5,"v":229},{"i":"B","s":"d","u":38,"v":230},{"i":"B","s":"d","u":39.5,"v":222},{"i":"B","s":"d","u":40.5,"v":204},{"i":"B","s":"d","u":41.3,"v":182},{"i":"B","s":"d","u":41.9,"v":162},{"i":"B","s":"d","u":42.9,"v":184},{"i":"B","s":"d","u":43.9,"v":204},{"i":"B","s":"d","u":45.3,"v":222},{"i":"B","s":"d","u":46.6,"v":229},{"i":"B","s":"d","u":47.9,"v":230},{"i":"B","s":"d","u":49.2,"v":224},{"i":"B","s":"d","u":50.3,"v":207},
{"i":"B","s":"g","u":0,"v":113},{"i":"B","s":"g","u":5,"v":115},{"i":"B","s":"g","u":10,"v":116},{"i":"B","s":"g","u":15,"v":114},{"i":"B","s":"g","u":20,"v":116},{"i":"B","s":"g","u":25,"v":117},{"i":"B","s":"g","u":30,"v":115},{"i":"B","s":"g","u":35,"v":114},{"i":"B","s":"g","u":40,"v":116},{"i":"B","s":"g","u":45,"v":117},{"i":"B","s":"g","u":50.3,"v":116},
{"i":"B","s":"n","u":0,"v":89},{"i":"B","s":"n","u":10,"v":89},{"i":"B","s":"n","u":20,"v":88},{"i":"B","s":"n","u":30,"v":87},{"i":"B","s":"n","u":35,"v":86},{"i":"B","s":"n","u":40,"v":85},{"i":"B","s":"n","u":50.3,"v":86},
{"i":"B","s":"r","u":0,"v":34},{"i":"B","s":"r","u":1.6,"v":24},{"i":"B","s":"r","u":3.6,"v":32},{"i":"B","s":"r","u":5.5,"v":42},{"i":"B","s":"r","u":7.5,"v":48},{"i":"B","s":"r","u":9.5,"v":38},{"i":"B","s":"r","u":11.8,"v":26},{"i":"B","s":"r","u":14.1,"v":36},{"i":"B","s":"r","u":16.7,"v":48},{"i":"B","s":"r","u":19,"v":40},{"i":"B","s":"r","u":21.3,"v":30},{"i":"B","s":"r","u":22.6,"v":26},{"i":"B","s":"r","u":24.6,"v":36},{"i":"B","s":"r","u":27.2,"v":50},{"i":"B","s":"r","u":29.9,"v":40},{"i":"B","s":"r","u":32.1,"v":24},{"i":"B","s":"r","u":34.5,"v":36},{"i":"B","s":"r","u":37.1,"v":48},{"i":"B","s":"r","u":39.7,"v":40},{"i":"B","s":"r","u":42.4,"v":26},{"i":"B","s":"r","u":44.3,"v":32},{"i":"B","s":"r","u":47.6,"v":48},{"i":"B","s":"r","u":49.6,"v":40},{"i":"B","s":"r","u":50.3,"v":37},
{"i":"C","s":"r","u":0,"v":194},{"i":"C","s":"r","u":2.6,"v":192},{"i":"C","s":"r","u":5.3,"v":194},{"i":"C","s":"r","u":7.9,"v":200},{"i":"C","s":"r","u":10.5,"v":197},{"i":"C","s":"r","u":12.5,"v":187},{"i":"C","s":"r","u":13.8,"v":180},{"i":"C","s":"r","u":15.8,"v":184},{"i":"C","s":"r","u":18.4,"v":194},{"i":"C","s":"r","u":21.7,"v":197},{"i":"C","s":"r","u":24.3,"v":192},{"i":"C","s":"r","u":27,"v":194},{"i":"C","s":"r","u":28.9,"v":200},{"i":"C","s":"r","u":31.6,"v":197},{"i":"C","s":"r","u":33.6,"v":187},{"i":"C","s":"r","u":35.5,"v":182},{"i":"C","s":"r","u":37.5,"v":190},{"i":"C","s":"r","u":40.1,"v":200},{"i":"C","s":"r","u":42.8,"v":192},{"i":"C","s":"r","u":44.7,"v":190},{"i":"C","s":"r","u":46.7,"v":197},{"i":"C","s":"r","u":48.7,"v":204},{"i":"C","s":"r","u":50,"v":200},
{"i":"C","s":"n","u":0,"v":122},{"i":"C","s":"n","u":2,"v":127},{"i":"C","s":"n","u":3.9,"v":134},{"i":"C","s":"n","u":5.9,"v":122},{"i":"C","s":"n","u":7.9,"v":124},{"i":"C","s":"n","u":10.5,"v":127},{"i":"C","s":"n","u":13.2,"v":122},{"i":"C","s":"n","u":15.1,"v":117},{"i":"C","s":"n","u":17.1,"v":134},{"i":"C","s":"n","u":19.1,"v":140},{"i":"C","s":"n","u":21.1,"v":132},{"i":"C","s":"n","u":23,"v":122},{"i":"C","s":"n","u":25.7,"v":117},{"i":"C","s":"n","u":28.9,"v":124},{"i":"C","s":"n","u":30.9,"v":132},{"i":"C","s":"n","u":32.9,"v":127},{"i":"C","s":"n","u":34.9,"v":120},{"i":"C","s":"n","u":36.8,"v":122},{"i":"C","s":"n","u":39.5,"v":117},{"i":"C","s":"n","u":42.8,"v":122},{"i":"C","s":"n","u":45.4,"v":134},{"i":"C","s":"n","u":48,"v":127},{"i":"C","s":"n","u":50,"v":124},
{"i":"C","s":"d","u":0,"v":74},{"i":"C","s":"d","u":1.3,"v":77},{"i":"C","s":"d","u":3.3,"v":82},{"i":"C","s":"d","u":4.6,"v":102},{"i":"C","s":"d","u":5.9,"v":122},{"i":"C","s":"d","u":7.2,"v":87},{"i":"C","s":"d","u":8.6,"v":72},{"i":"C","s":"d","u":9.9,"v":87},{"i":"C","s":"d","u":11.8,"v":77},{"i":"C","s":"d","u":13.8,"v":77},{"i":"C","s":"d","u":15.1,"v":92},{"i":"C","s":"d","u":16.8,"v":137},{"i":"C","s":"d","u":18.4,"v":102},{"i":"C","s":"d","u":19.7,"v":62},{"i":"C","s":"d","u":21.1,"v":72},{"i":"C","s":"d","u":23,"v":77},{"i":"C","s":"d","u":24.3,"v":102},{"i":"C","s":"d","u":25.7,"v":142},{"i":"C","s":"d","u":27,"v":112},{"i":"C","s":"d","u":28.3,"v":77},{"i":"C","s":"d","u":29.6,"v":72},{"i":"C","s":"d","u":31.6,"v":87},{"i":"C","s":"d","u":32.9,"v":97},{"i":"C","s":"d","u":34.2,"v":72},{"i":"C","s":"d","u":35.5,"v":147},{"i":"C","s":"d","u":36.8,"v":127},{"i":"C","s":"d","u":38.2,"v":72},{"i":"C","s":"d","u":39.5,"v":77},{"i":"C","s":"d","u":41.4,"v":77},{"i":"C","s":"d","u":43.4,"v":67},{"i":"C","s":"d","u":45.4,"v":92},{"i":"C","s":"d","u":46.7,"v":127},{"i":"C","s":"d","u":48,"v":67},{"i":"C","s":"d","u":49.1,"v":52},{"i":"C","s":"d","u":50,"v":67},
{"i":"C","s":"g","u":0,"v":50},{"i":"C","s":"g","u":2,"v":54},{"i":"C","s":"g","u":3.9,"v":52},{"i":"C","s":"g","u":5.3,"v":77},{"i":"C","s":"g","u":6.6,"v":82},{"i":"C","s":"g","u":8.6,"v":72},{"i":"C","s":"g","u":10.5,"v":62},{"i":"C","s":"g","u":12.5,"v":47},{"i":"C","s":"g","u":14.5,"v":52},{"i":"C","s":"g","u":17.1,"v":62},{"i":"C","s":"g","u":19.1,"v":72},{"i":"C","s":"g","u":20.4,"v":57},{"i":"C","s":"g","u":22.4,"v":52},{"i":"C","s":"g","u":24.3,"v":57},{"i":"C","s":"g","u":26.3,"v":67},{"i":"C","s":"g","u":28.3,"v":82},{"i":"C","s":"g","u":30.3,"v":62},{"i":"C","s":"g","u":32.2,"v":52},{"i":"C","s":"g","u":34.2,"v":50},{"i":"C","s":"g","u":36.8,"v":52},{"i":"C","s":"g","u":39.5,"v":62},{"i":"C","s":"g","u":41.4,"v":57},{"i":"C","s":"g","u":43.4,"v":67},{"i":"C","s":"g","u":45.4,"v":77},{"i":"C","s":"g","u":46.7,"v":80},{"i":"C","s":"g","u":48,"v":72},{"i":"C","s":"g","u":49.3,"v":57},{"i":"C","s":"g","u":50,"v":62},
{"i":"D","s":"r","u":0,"v":220},{"i":"D","s":"r","u":2.9,"v":224},{"i":"D","s":"r","u":5.5,"v":227},{"i":"D","s":"r","u":9.5,"v":224},{"i":"D","s":"r","u":13.4,"v":230},{"i":"D","s":"r","u":17.4,"v":227},{"i":"D","s":"r","u":21.3,"v":224},{"i":"D","s":"r","u":23.9,"v":220},{"i":"D","s":"r","u":26.6,"v":227},{"i":"D","s":"r","u":30.5,"v":224},{"i":"D","s":"r","u":33.2,"v":222},{"i":"D","s":"r","u":35.8,"v":229},{"i":"D","s":"r","u":39.7,"v":227},{"i":"D","s":"r","u":43.7,"v":222},{"i":"D","s":"r","u":46.3,"v":224},{"i":"D","s":"r","u":50.3,"v":224},
{"i":"D","s":"n","u":0,"v":167},{"i":"D","s":"n","u":1.6,"v":167},{"i":"D","s":"n","u":3.6,"v":177},{"i":"D","s":"n","u":5.5,"v":187},{"i":"D","s":"n","u":7.5,"v":184},{"i":"D","s":"n","u":9.5,"v":167},{"i":"D","s":"n","u":11.4,"v":150},{"i":"D","s":"n","u":13.4,"v":157},{"i":"D","s":"n","u":15.4,"v":177},{"i":"D","s":"n","u":17.4,"v":187},{"i":"D","s":"n","u":19.3,"v":182},{"i":"D","s":"n","u":21.3,"v":167},{"i":"D","s":"n","u":23.9,"v":172},{"i":"D","s":"n","u":25.9,"v":184},{"i":"D","s":"n","u":27.9,"v":172},{"i":"D","s":"n","u":29.9,"v":157},{"i":"D","s":"n","u":31.8,"v":167},{"i":"D","s":"n","u":33.8,"v":177},{"i":"D","s":"n","u":35.8,"v":184},{"i":"D","s":"n","u":37.8,"v":177},{"i":"D","s":"n","u":39.7,"v":167},{"i":"D","s":"n","u":42.4,"v":162},{"i":"D","s":"n","u":44.3,"v":177},{"i":"D","s":"n","u":46.3,"v":180},{"i":"D","s":"n","u":48.3,"v":177},{"i":"D","s":"n","u":50.3,"v":159},
{"i":"D","s":"g","u":0,"v":152},{"i":"D","s":"g","u":1.6,"v":147},{"i":"D","s":"g","u":3.2,"v":192},{"i":"D","s":"g","u":4.2,"v":202},{"i":"D","s":"g","u":5.5,"v":187},{"i":"D","s":"g","u":6.8,"v":142},{"i":"D","s":"g","u":8.8,"v":137},{"i":"D","s":"g","u":10.8,"v":142},{"i":"D","s":"g","u":12.8,"v":157},{"i":"D","s":"g","u":14.1,"v":177},{"i":"D","s":"g","u":15.4,"v":192},{"i":"D","s":"g","u":17.4,"v":162},{"i":"D","s":"g","u":19.3,"v":144},{"i":"D","s":"g","u":21.3,"v":152},{"i":"D","s":"g","u":23.3,"v":170},{"i":"D","s":"g","u":24.6,"v":187},{"i":"D","s":"g","u":25.9,"v":177},{"i":"D","s":"g","u":27.2,"v":152},{"i":"D","s":"g","u":29.2,"v":137},{"i":"D","s":"g","u":31.2,"v":147},{"i":"D","s":"g","u":32.5,"v":167},{"i":"D","s":"g","u":34.5,"v":182},{"i":"D","s":"g","u":36.4,"v":177},{"i":"D","s":"g","u":38.4,"v":157},{"i":"D","s":"g","u":40.4,"v":147},{"i":"D","s":"g","u":42.4,"v":162},{"i":"D","s":"g","u":44.3,"v":192},{"i":"D","s":"g","u":45.7,"v":202},{"i":"D","s":"g","u":47,"v":182},{"i":"D","s":"g","u":48.3,"v":152},{"i":"D","s":"g","u":50.3,"v":127},
{"i":"D","s":"d","u":0,"v":87},{"i":"D","s":"d","u":1.3,"v":112},{"i":"D","s":"d","u":2.6,"v":197},{"i":"D","s":"d","u":3.9,"v":200},{"i":"D","s":"d","u":4.9,"v":152},{"i":"D","s":"d","u":5.8,"v":67},{"i":"D","s":"d","u":6.6,"v":52},{"i":"D","s":"d","u":7.5,"v":102},{"i":"D","s":"d","u":8.8,"v":122},{"i":"D","s":"d","u":10.1,"v":132},{"i":"D","s":"d","u":11.4,"v":177},{"i":"D","s":"d","u":12.8,"v":207},{"i":"D","s":"d","u":14.1,"v":217},{"i":"D","s":"d","u":15.4,"v":177},{"i":"D","s":"d","u":16.1,"v":92},{"i":"D","s":"d","u":17.1,"v":37},{"i":"D","s":"d","u":18.7,"v":47},{"i":"D","s":"d","u":20,"v":72},{"i":"D","s":"d","u":22,"v":102},{"i":"D","s":"d","u":23.3,"v":162},{"i":"D","s":"d","u":24.6,"v":187},{"i":"D","s":"d","u":25.9,"v":202},{"i":"D","s":"d","u":27.2,"v":127},{"i":"D","s":"d","u":28.6,"v":92},{"i":"D","s":"d","u":29.9,"v":107},{"i":"D","s":"d","u":31.2,"v":92},{"i":"D","s":"d","u":32.9,"v":172},{"i":"D","s":"d","u":34.5,"v":207},{"i":"D","s":"d","u":35.8,"v":217},{"i":"D","s":"d","u":36.8,"v":142},{"i":"D","s":"d","u":38.4,"v":52},{"i":"D","s":"d","u":39.7,"v":72},{"i":"D","s":"d","u":41.1,"v":77},{"i":"D","s":"d","u":43,"v":122},{"i":"D","s":"d","u":44.3,"v":187},{"i":"D","s":"d","u":45.3,"v":207},{"i":"D","s":"d","u":46.3,"v":152},{"i":"D","s":"d","u":47.4,"v":67},{"i":"D","s":"d","u":48.3,"v":27},{"i":"D","s":"d","u":49.6,"v":42},{"i":"D","s":"d","u":50.3,"v":107}
]
},
"concat":[
{"width":243,"height":176,"resolve":{"scale":{"x":"independent","y":"independent"}},
"layer":[
{"data":{"name":"A"},
"layer":[
{"mark":{"type":"area","color":"#8cc35a"},"encoding":{"x":{"field":"t","type":"quantitative","scale":{"domain":[-44.6,1040.2],"nice":false,"zero":false},"axis":{"values":[0,500,1000],"labels":false,"title":null}},"y":{"field":"oL","type":"quantitative","scale":{"type":"log","domain":[0.5,1.07e8],"nice":false},"axis":{"values":[10,1000,100000,10000000],"labelExpr":"datum.value==10?'10¹':datum.value==1000?'10³':datum.value==100000?'10⁵':'10⁷'","title":"Biomass density (kg km⁻²)","titleX":-75,"titleY":174,"titleAngle":-90,"titleAlign":"center","titleBaseline":"alphabetic"}},"y2":{"field":"d"}}},
{"mark":{"type":"line","color":"#0b6b0b","strokeWidth":2},"encoding":{"x":{"field":"t","type":"quantitative"},"y":{"field":"d","type":"quantitative"}}},
{"mark":{"type":"area","color":"#98ee98"},"encoding":{"x":{"field":"t","type":"quantitative"},"y":{"field":"pL","type":"quantitative"},"y2":{"field":"pH"}}},
{"data":{"name":"S"},"transform":[{"filter":"datum.p=='A'"}],"mark":{"type":"rule","strokeWidth":1.2,"opacity":0.8},"encoding":{"x":{"field":"t","type":"quantitative"},"y":{"field":"lo","type":"quantitative"},"y2":{"field":"hi"},"color":{"field":"c","type":"nominal","legend":null,"scale":{"domain":["d","g","n","r","ao","ap","bb","bk","co","cw","cd","dd","dw","dv"],"range":["#0b6b0b","#2ee82e","#0d1b8c","#ee1c1c","#8cc35a","#98ee98","#5cc3f2","#f5a3a3","#9bc86e","#ffffff","#0a640a","#0a640a","#ffffff","#7fae5a"]}}}},
{"mark":{"type":"area","color":"#5cc3f2"},"encoding":{"x":{"field":"t","type":"quantitative"},"y":{"field":"bL","type":"quantitative"},"y2":{"field":"bH"}}},
{"mark":{"type":"area","color":"#f7aaaa"},"encoding":{"x":{"field":"t","type":"quantitative"},"y":{"field":"kL","type":"quantitative"},"y2":{"field":"kH"}}},
{"mark":{"type":"line","color":"#22dd22","strokeWidth":2},"encoding":{"x":{"field":"t","type":"quantitative"},"y":{"field":"g","type":"quantitative"}}},
{"mark":{"type":"line","color":"#ff1a1a","strokeWidth":2.5},"encoding":{"x":{"field":"t","type":"quantitative"},"y":{"field":"r","type":"quantitative"}}},
{"mark":{"type":"line","color":"#0d1b8c","strokeWidth":2},"encoding":{"x":{"field":"t","type":"quantitative"},"y":{"field":"n","type":"quantitative"}}},
{"data":{"values":[{"lab":"A"}]},"mark":{"type":"text","clip":false,"fontSize":21,"font":"Liberation Sans","align":"center","baseline":"middle","color":"#111"},"encoding":{"x":{"datum":-282,"type":"quantitative"},"y":{"datum":10000000,"type":"quantitative"},"text":{"field":"lab","type":"nominal"}}}
]},
{"data":{"name":"I"},"transform":[{"filter":"datum.i=='A'"}],
"layer":[
{"data":{"values":[{}]},"mark":{"type":"rect","clip":false,"fill":"white","fillOpacity":0.72,"stroke":"#333","strokeWidth":1},"encoding":{"x":{"datum":-1.7,"type":"quantitative","scale":{"domain":[-1.7,51.3],"range":[113,250],"nice":false,"zero":false},"axis":{"orient":"bottom","values":[0,10,20,30,40,50],"labels":false,"title":null,"tickSize":3,"offset":-5}},"x2":{"datum":51.3},"y":{"datum":0,"type":"quantitative","scale":{"domain":[0,256],"range":[171,86],"nice":false,"zero":false},"axis":null},"y2":{"datum":256}}},
{"mark":{"type":"line","clip":false,"strokeWidth":2},"encoding":{"x":{"field":"u","type":"quantitative"},"y":{"field":"v","type":"quantitative"},"color":{"field":"s","type":"nominal","legend":null,"scale":{"domain":["d","g","n","r","ao","ap","bb","bk","co","cw","cd","dd","dw","dv"],"range":["#0b6b0b","#2ee82e","#0d1b8c","#ee1c1c","#8cc35a","#98ee98","#5cc3f2","#f5a3a3","#9bc86e","#ffffff","#0a640a","#0a640a","#ffffff","#7fae5a"]}}}}
]}
]},
{"width":283,"height":176,"resolve":{"scale":{"x":"independent","y":"independent"}},
"layer":[
{"data":{"name":"B"},
"layer":[
{"mark":{"type":"area","color":"#8cc35a","opacity":0.35},"encoding":{"x":{"field":"t","type":"quantitative","scale":{"domain":[-42.1,1042.2],"nice":false,"zero":false},"axis":{"values":[0,500,1000],"labels":false,"title":null}},"y":{"field":"oL","type":"quantitative","scale":{"type":"log","domain":[0.5,1.07e8],"nice":false},"axis":null},"y2":{"field":"dL"}}},
{"mark":{"type":"area","color":"#0b640b"},"encoding":{"x":{"field":"t","type":"quantitative"},"y":{"field":"dL","type":"quantitative"},"y2":{"field":"dH"}}},
{"mark":{"type":"area","color":"#98ee98"},"encoding":{"x":{"field":"t","type":"quantitative"},"y":{"field":"pL","type":"quantitative"},"y2":{"field":"pH"}}},
{"mark":{"type":"area","color":"#5cc3f2"},"encoding":{"x":{"field":"t","type":"quantitative"},"y":{"field":"bL","type":"quantitative"},"y2":{"field":"bH"}}},
{"mark":{"type":"area","color":"#f7aaaa"},"encoding":{"x":{"field":"t","type":"quantitative"},"y":{"field":"kL","type":"quantitative"},"y2":{"field":"kH"}}},
{"mark":{"type":"area","color":"#ff1a1a"},"encoding":{"x":{"field":"t","type":"quantitative"},"y":{"field":"rL","type":"quantitative"},"y2":{"field":"rH"}}},
{"data":{"name":"S"},"transform":[{"filter":"datum.p=='B'"}],"mark":{"type":"rule","strokeWidth":1.2,"opacity":0.8},"encoding":{"x":{"field":"t","type":"quantitative"},"y":{"field":"lo","type":"quantitative"},"y2":{"field":"hi"},"color":{"field":"c","type":"nominal","legend":null,"scale":{"domain":["d","g","n","r","ao","ap","bb","bk","co","cw","cd","dd","dw","dv"],"range":["#0b6b0b","#2ee82e","#0d1b8c","#ee1c1c","#8cc35a","#98ee98","#5cc3f2","#f5a3a3","#9bc86e","#ffffff","#0a640a","#0a640a","#ffffff","#7fae5a"]}}}},
{"mark":{"type":"line","color":"#22ee22","strokeWidth":2.5},"encoding":{"x":{"field":"t","type":"quantitative"},"y":{"field":"g","type":"quantitative"}}},
{"mark":{"type":"line","color":"#0d1b8c","strokeWidth":2},"encoding":{"x":{"field":"t","type":"quantitative"},"y":{"field":"n","type":"quantitative"}}},
{"data":{"values":[{"lab":"B"}]},"mark":{"type":"text","clip":false,"fontSize":21,"font":"Liberation Sans","align":"center","baseline":"middle","color":"#111"},"encoding":{"x":{"datum":-78,"type":"quantitative"},"y":{"datum":10000000,"type":"quantitative"},"text":{"field":"lab","type":"nominal"}}}
]},
{"data":{"name":"I"},"transform":[{"filter":"datum.i=='B'"}],
"layer":[
{"data":{"values":[{}]},"mark":{"type":"rect","clip":false,"fill":"white","fillOpacity":0.72,"stroke":"#333","strokeWidth":1},"encoding":{"x":{"datum":-2,"type":"quantitative","scale":{"domain":[-2,50.7],"range":[152,285],"nice":false,"zero":false},"axis":{"orient":"bottom","values":[0,10,20,30,40,50],"labels":false,"title":null,"tickSize":3,"offset":-4}},"x2":{"datum":50.7},"y":{"datum":0,"type":"quantitative","scale":{"domain":[0,257],"range":[172,86.7],"nice":false,"zero":false},"axis":null},"y2":{"datum":257}}},
{"mark":{"type":"line","clip":false,"strokeWidth":2},"encoding":{"x":{"field":"u","type":"quantitative"},"y":{"field":"v","type":"quantitative"},"color":{"field":"s","type":"nominal","legend":null,"scale":{"domain":["d","g","n","r","ao","ap","bb","bk","co","cw","cd","dd","dw","dv"],"range":["#0b6b0b","#2ee82e","#0d1b8c","#ee1c1c","#8cc35a","#98ee98","#5cc3f2","#f5a3a3","#9bc86e","#ffffff","#0a640a","#0a640a","#ffffff","#7fae5a"]}}}}
]}
]},
{"width":243,"height":164,"resolve":{"scale":{"x":"independent","y":"independent"}},
"layer":[
{"data":{"name":"C"},
"layer":[
{"mark":{"type":"area","color":"#9bc86e"},"encoding":{"x":{"field":"t","type":"quantitative","scale":{"domain":[-44.6,1040.2],"nice":false,"zero":false},"axis":{"values":[0,500,1000],"format":"d","title":"Time (years)","titleX":256,"titleY":50,"titleAlign":"center","titleBaseline":"alphabetic","labelPadding":4}},"y":{"field":"oH","type":"quantitative","scale":{"type":"log","domain":[0.5,1.07e8],"nice":false},"axis":{"values":[10,1000,100000,10000000],"labelExpr":"datum.value==10?'10¹':datum.value==1000?'10³':datum.value==100000?'10⁵':'10⁷'","title":null}},"y2":{"datum":1}}},
{"mark":{"type":"area","color":"#98ee98"},"encoding":{"x":{"field":"t","type":"quantitative"},"y":{"field":"pL","type":"quantitative"},"y2":{"field":"pH"}}},
{"mark":{"type":"area","color":"#22ee22"},"encoding":{"x":{"field":"t","type":"quantitative"},"y":{"field":"gL","type":"quantitative"},"y2":{"field":"gH"}}},
{"data":{"name":"S"},"transform":[{"filter":"datum.p=='C'"}],"mark":{"type":"rule","strokeWidth":1.2,"opacity":0.8},"encoding":{"x":{"field":"t","type":"quantitative"},"y":{"field":"lo","type":"quantitative"},"y2":{"field":"hi"},"color":{"field":"c","type":"nominal","legend":null,"scale":{"domain":["d","g","n","r","ao","ap","bb","bk","co","cw","cd","dd","dw","dv"],"range":["#0b6b0b","#2ee82e","#0d1b8c","#ee1c1c","#8cc35a","#98ee98","#5cc3f2","#f5a3a3","#9bc86e","#ffffff","#0a640a","#0a640a","#ffffff","#7fae5a"]}}}},
{"mark":{"type":"area","color":"#0b640b"},"encoding":{"x":{"field":"t","type":"quantitative"},"y":{"field":"dL","type":"quantitative"},"y2":{"field":"dH"}}},
{"mark":{"type":"area","color":"#0d1b8c"},"encoding":{"x":{"field":"t","type":"quantitative"},"y":{"field":"nL","type":"quantitative"},"y2":{"field":"nH"}}},
{"mark":{"type":"area","color":"#f7aaaa"},"encoding":{"x":{"field":"t","type":"quantitative"},"y":{"field":"kL","type":"quantitative"},"y2":{"field":"kH"}}},
{"mark":{"type":"line","color":"#ff1a1a","strokeWidth":2.5},"encoding":{"x":{"field":"t","type":"quantitative"},"y":{"field":"r","type":"quantitative"}}},
{"data":{"values":[{"lab":"C"}]},"mark":{"type":"text","clip":false,"fontSize":21,"font":"Liberation Sans","align":"center","baseline":"middle","color":"#111"},"encoding":{"x":{"datum":-282,"type":"quantitative"},"y":{"datum":10000000,"type":"quantitative"},"text":{"field":"lab","type":"nominal"}}}
]},
{"data":{"name":"I"},"transform":[{"filter":"datum.i=='C'"}],
"layer":[
{"data":{"values":[{}]},"mark":{"type":"rect","clip":false,"fill":"white","fillOpacity":0.72,"stroke":"#333","strokeWidth":1},"encoding":{"x":{"datum":-2,"type":"quantitative","scale":{"domain":[-2,51.3],"range":[113.5,249.5],"nice":false,"zero":false},"axis":{"orient":"bottom","values":[0,10,20,30,40,50],"labels":false,"title":null,"tickSize":3,"offset":-5}},"x2":{"datum":51.3},"y":{"datum":0,"type":"quantitative","scale":{"domain":[0,257],"range":[159,73.7],"nice":false,"zero":false},"axis":null},"y2":{"datum":257}}},
{"mark":{"type":"line","clip":false,"strokeWidth":2},"encoding":{"x":{"field":"u","type":"quantitative"},"y":{"field":"v","type":"quantitative"},"color":{"field":"s","type":"nominal","legend":null,"scale":{"domain":["d","g","n","r","ao","ap","bb","bk","co","cw","cd","dd","dw","dv"],"range":["#0b6b0b","#2ee82e","#0d1b8c","#ee1c1c","#8cc35a","#98ee98","#5cc3f2","#f5a3a3","#9bc86e","#ffffff","#0a640a","#0a640a","#ffffff","#7fae5a"]}}}}
]}
]},
{"width":283,"height":164,"resolve":{"scale":{"x":"independent","y":"independent"}},
"layer":[
{"data":{"name":"D"},
"layer":[
{"mark":{"type":"area","color":"#bcdb9c"},"encoding":{"x":{"field":"t","type":"quantitative","scale":{"domain":[-42.1,1042.2],"nice":false,"zero":false},"axis":{"values":[0,500,1000],"format":"d","title":null,"labelPadding":4}},"y":{"field":"oH","type":"quantitative","scale":{"type":"log","domain":[0.5,1.07e8],"nice":false},"axis":null},"y2":{"datum":1}}},
{"mark":{"type":"area","color":"#86bb5a"},"encoding":{"x":{"field":"t","type":"quantitative"},"y":{"field":"mH","type":"quantitative"},"y2":{"datum":1}}},
{"mark":{"type":"area","color":"#0b640b"},"encoding":{"x":{"field":"t","type":"quantitative"},"y":{"field":"dL","type":"quantitative"},"y2":{"field":"dH"}}},
{"data":{"name":"S"},"transform":[{"filter":"datum.p=='D'"}],"mark":{"type":"rule","strokeWidth":1.2,"opacity":0.8},"encoding":{"x":{"field":"t","type":"quantitative"},"y":{"field":"lo","type":"quantitative"},"y2":{"field":"hi"},"color":{"field":"c","type":"nominal","legend":null,"scale":{"domain":["d","g","n","r","ao","ap","bb","bk","co","cw","cd","dd","dw","dv"],"range":["#0b6b0b","#2ee82e","#0d1b8c","#ee1c1c","#8cc35a","#98ee98","#5cc3f2","#f5a3a3","#9bc86e","#ffffff","#0a640a","#0a640a","#ffffff","#7fae5a"]}}}},
{"mark":{"type":"area","color":"#33ee33"},"encoding":{"x":{"field":"t","type":"quantitative"},"y":{"field":"gL","type":"quantitative"},"y2":{"field":"gH"}}},
{"mark":{"type":"area","color":"#0d1b8c"},"encoding":{"x":{"field":"t","type":"quantitative"},"y":{"field":"nL","type":"quantitative"},"y2":{"field":"nH"}}},
{"mark":{"type":"line","color":"#ff1a1a","strokeWidth":2.5},"encoding":{"x":{"field":"t","type":"quantitative"},"y":{"field":"r","type":"quantitative"}}},
{"data":{"values":[{"lab":"D"}]},"mark":{"type":"text","clip":false,"fontSize":21,"font":"Liberation Sans","align":"center","baseline":"middle","color":"#111"},"encoding":{"x":{"datum":-78,"type":"quantitative"},"y":{"datum":10000000,"type":"quantitative"},"text":{"field":"lab","type":"nominal"}}}
]},
{"data":{"name":"I"},"transform":[{"filter":"datum.i=='D'"}],
"layer":[
{"data":{"values":[{}]},"mark":{"type":"rect","clip":false,"fill":"white","fillOpacity":0.72,"stroke":"#333","strokeWidth":1},"encoding":{"x":{"datum":-2,"type":"quantitative","scale":{"domain":[-2,50.9],"range":[152,286],"nice":false,"zero":false},"axis":{"orient":"bottom","values":[0,10,20,30,40,50],"labels":false,"title":null,"tickSize":3,"offset":-5}},"x2":{"datum":50.9},"y":{"datum":0,"type":"quantitative","scale":{"domain":[0,259],"range":[159,73],"nice":false,"zero":false},"axis":null},"y2":{"datum":259}}},
{"mark":{"type":"line","clip":false,"strokeWidth":2},"encoding":{"x":{"field":"u","type":"quantitative"},"y":{"field":"v","type":"quantitative"},"color":{"field":"s","type":"nominal","legend":null,"scale":{"domain":["d","g","n","r","ao","ap","bb","bk","co","cw","cd","dd","dw","dv"],"range":["#0b6b0b","#2ee82e","#0d1b8c","#ee1c1c","#8cc35a","#98ee98","#5cc3f2","#f5a3a3","#9bc86e","#ffffff","#0a640a","#0a640a","#ffffff","#7fae5a"]}}}}
]}
]}
]
}
